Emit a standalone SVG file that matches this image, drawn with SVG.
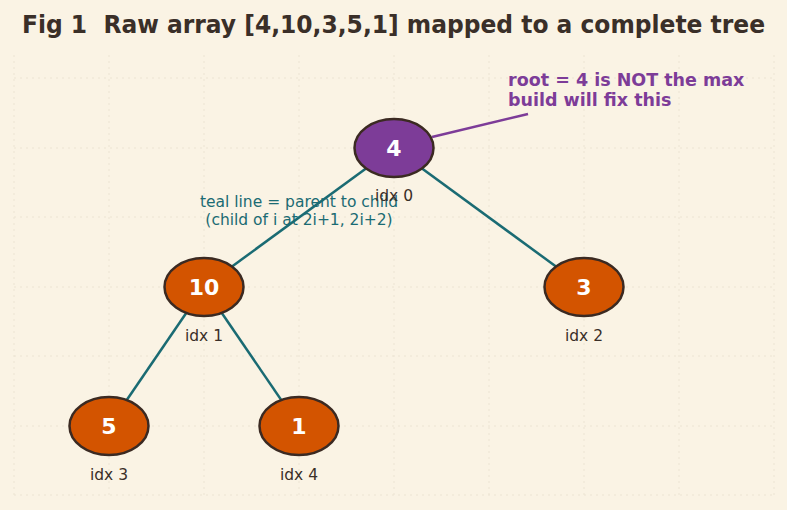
<svg xmlns="http://www.w3.org/2000/svg" width="787" height="510" viewBox="0 0 787 510">
<style>
.grid{stroke:#ece4d3;stroke-width:1;stroke-dasharray:2 4;fill:none}
.edge{stroke:#1a6b73;stroke-width:2.5;fill:none}
.node{stroke:#3b2a22;stroke-width:2.5}
.heap{fill:#d35400}
.root{fill:#7d3c98}
.val{font-family:"DejaVu Sans","Liberation Sans",sans-serif;font-weight:bold;font-size:22px;fill:#ffffff;text-anchor:middle}
.idx{font-family:"DejaVu Sans","Liberation Sans",sans-serif;font-size:15.5px;fill:#3a2f28;text-anchor:middle}
.teal{font-family:"DejaVu Sans","Liberation Sans",sans-serif;font-size:15.5px;fill:#1a6b73;text-anchor:middle}
.note{font-family:"DejaVu Sans","Liberation Sans",sans-serif;font-weight:bold;font-size:17.5px;fill:#7d3c98}
.title{font-family:"DejaVu Sans","Liberation Sans",sans-serif;font-weight:bold;font-size:24px;fill:#3a2f28;text-anchor:middle}
</style>
<rect width="787" height="510" fill="#faf3e4"/>
<g id="grid">
<path class="grid" d="M14 55V495M109 55V495M204 55V495M299 55V495M394 55V495M489 55V495M584 55V495M679 55V495M774 55V495"/>
<path class="grid" d="M14 78H774M14 148H774M14 217H774M14 287H774M14 356H774M14 426H774M14 495H774"/>
</g>
<text class="title" x="393.5" y="33" textLength="743" lengthAdjust="spacingAndGlyphs" xml:space="preserve">Fig 1  Raw array [4,10,3,5,1] mapped to a complete tree</text>
<g id="connectors">
<line class="edge" x1="394" y1="148" x2="204" y2="287"/>
<line class="edge" x1="394" y1="148" x2="584" y2="287"/>
<line class="edge" x1="204" y1="287" x2="109" y2="426"/>
<line class="edge" x1="204" y1="287" x2="299" y2="426"/>
<line x1="432" y1="137" x2="528" y2="114" stroke="#7d3c98" stroke-width="2.5"/>
</g>
<text class="teal" x="299" y="207">teal line = parent to child</text>
<text class="teal" x="299" y="225">(child of i at 2i+1, 2i+2)</text>
<g id="n0">
<ellipse class="node root" cx="394" cy="148" rx="39.5" ry="29"/>
<text class="val" x="394" y="156">4</text>
<text class="idx" x="394" y="201">idx 0</text>
</g>
<g id="n1">
<ellipse class="node heap" cx="204" cy="287" rx="39.5" ry="29"/>
<text class="val" x="204" y="295">10</text>
<text class="idx" x="204" y="341">idx 1</text>
</g>
<g id="n2">
<ellipse class="node heap" cx="584" cy="287" rx="39.5" ry="29"/>
<text class="val" x="584" y="295">3</text>
<text class="idx" x="584" y="341">idx 2</text>
</g>
<g id="n3">
<ellipse class="node heap" cx="109" cy="426" rx="39.5" ry="29"/>
<text class="val" x="109" y="434">5</text>
<text class="idx" x="109" y="480">idx 3</text>
</g>
<g id="n4">
<ellipse class="node heap" cx="299" cy="426" rx="39.5" ry="29"/>
<text class="val" x="299" y="434">1</text>
<text class="idx" x="299" y="480">idx 4</text>
</g>
<g id="note">
<text class="note" x="508" y="86">root = 4 is NOT the max</text>
<text class="note" x="508" y="106">build will fix this</text>
</g>
</svg>
